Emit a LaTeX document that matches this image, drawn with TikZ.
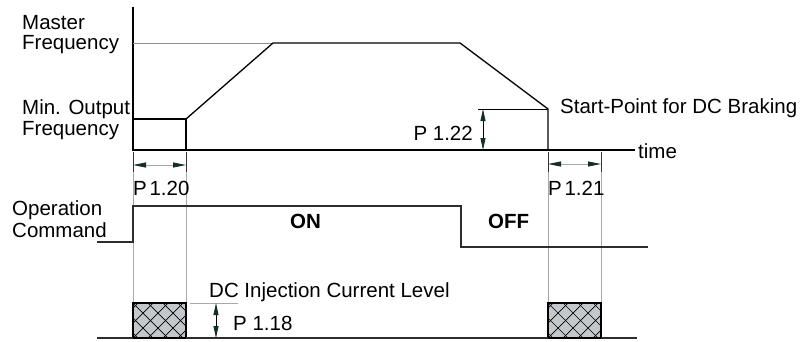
\documentclass[tikz,border=0pt]{standalone}
\usepackage{fontspec}
\setmainfont{Liberation Sans}
\usetikzlibrary{arrows.meta}
\definecolor{extgray}{RGB}{165,169,173}
\definecolor{mastgray}{RGB}{140,140,140}
\definecolor{arrc}{RGB}{20,48,34}
\definecolor{hatchfill}{RGB}{196,200,205}
\definecolor{cmdgray}{RGB}{45,45,45}
\begin{document}
\begin{tikzpicture}[x=1pt,y=-1pt,
  lbl/.style={inner sep=0pt,anchor=base west,font=\fontsize{20.5}{24}\selectfont},
  lble/.style={lbl,anchor=base east},
  bold/.style={lbl,font=\fontsize{20.5}{24}\selectfont\bfseries},
  curve/.style={line width=1.3pt,black},
  cmd/.style={line width=1.4pt,cmdgray},
  ext/.style={line width=0.9pt,extgray},
  tick/.style={line width=0.8pt,black!80},
  thinblk/.style={line width=0.8pt,black},
  dim/.style={line width=0.8pt,extgray,{Triangle[length=13pt,width=5pt,color=arrc]}-{Triangle[length=13pt,width=5pt,color=arrc]}},
  vdim/.style={line width=0.8pt,black,{Triangle[length=12pt,width=5pt,color=arrc]}-{Triangle[length=12pt,width=5pt,color=arrc]}},
  hbox/.style={line width=1.6pt,black}
]
\useasboundingbox (0,0) rectangle (802,341);

% coordinates of the frequency graph
\coordinate (o) at (133,150);
\coordinate (ytop) at (133,7);
\coordinate (tend) at (635,150);
\coordinate (m0) at (133,43);
\coordinate (mn0) at (133,119);
\coordinate (mn1) at (186,119);
\coordinate (mnb) at (186,150);
\coordinate (r1) at (273,43);
\coordinate (r2) at (460,43);
\coordinate (sp) at (548,109);
\coordinate (spb) at (548,150);

% extension lines (gray)
\draw[ext] (133,152) -- (133,303);
\draw[ext] (186,152) -- (186,303);
\draw[ext] (548,152) -- (548,303);
\draw[ext] (601,152) -- (601,303);

% axes
\draw[curve] (ytop) -- (o) -- (tend);
\draw[line width=0.9pt,mastgray] (m0) -- (r1);
% output frequency curve
\draw[curve] (mn0) -- (mn1) -- (mnb);
\draw[curve] (mn1) -- (r1) -- (r2) -- (sp) -- (spb);

% P 1.22
\draw[thinblk] (478,109) -- (sp);
\draw[vdim] (483,109) -- (483,150);

% P 1.20 and P 1.21 dimension
\draw[tick] (133,152) -- (133,172);
\draw[tick] (186,152) -- (186,172);
\draw[tick] (548,152) -- (548,172);
\draw[tick] (601,152) -- (601,172);
\draw[dim] (133,165) -- (186,165);
\draw[dim] (548,164) -- (601,164);

% operation command
\draw[cmd] (97,242) -- (133,242) -- (133,206) -- (461,206) -- (461,247) -- (648,247);

% DC injection hatched boxes
\foreach \xa/\xb in {133/186,548/601}{
  \begin{scope}
    \clip (\xa,303) rectangle (\xb,338);
    \fill[hatchfill] (\xa,303) rectangle (\xb,338);
    \foreach \k in {-4,...,4}{
      \draw[line width=0.7pt,black] (\xa+\k*15,338) -- ++(45,-45);
      \draw[line width=0.7pt,black] (\xa+\k*15,303) -- ++(45,45);
    }
  \end{scope}
  \draw[hbox] (\xa,303) rectangle (\xb,338);
}
\draw[cmd] (97,338) -- (133,338);
\draw[cmd] (186,338) -- (548,338);
\draw[cmd] (601,338) -- (637,338);

% P 1.18
\draw[ext] (190,303) -- (238,303);
\draw[vdim] (216,303) -- (216,338);

% texts
\node[lbl] (mf1) at (22,29) {Master};
\node[lbl] (mf2) at (22,49) {Frequency};
\node[lbl] (mo1) at (22,114) {Min. Output};
\node[lbl] (mo2) at (22,135) {Frequency};
\node[lbl] (spl) at (560,113) {Start-Point for DC Braking};
\node[lble] (p122) at (473,140) {P 1.22};
\node[lbl] (time) at (638,158) {time};
\node[lbl] (p120) at (133,195) {P\hspace{-3pt} 1.20};
\node[lbl] (p121) at (548,195) {P\hspace{-3pt} 1.21};
\node[lbl] (oc1) at (12,215) {Operation};
\node[lbl] (oc2) at (12,237) {Command};
\node[bold] (on) at (290,228) {ON};
\node[bold] (off) at (488,228) {OFF};
\node[lbl] (dcl) at (209,297) {DC Injection Current Level};
\node[lbl] (p118) at (233,330) {P 1.18};
\end{tikzpicture}
\end{document}
